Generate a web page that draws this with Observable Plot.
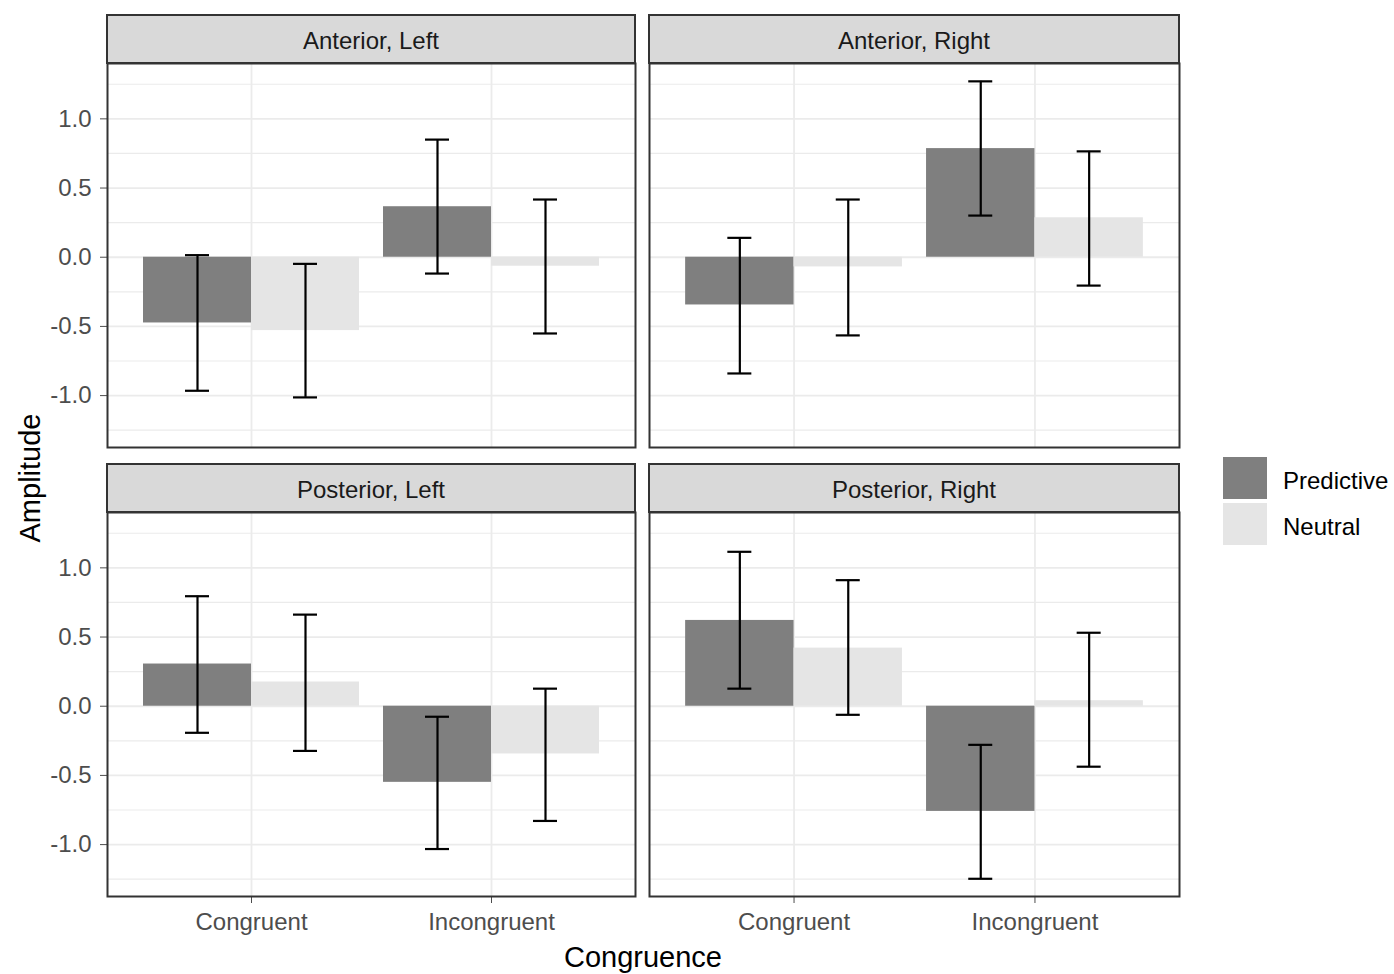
<!DOCTYPE html>
<html>
<head>
<meta charset="utf-8">
<script src="https://cdn.jsdelivr.net/npm/d3@7"></script>
<script src="https://cdn.jsdelivr.net/npm/@observablehq/plot@0.6"></script>
<style>
  html, body { margin: 0; padding: 0; background: #fff; }
  #chart { position: relative; width: 1394px; height: 974px; background: #fff; font-family: "Liberation Sans", Arial, sans-serif; }
  .strip { position: absolute; box-sizing: border-box; height: 50px; padding-top: 4px; background: #D9D9D9; border: 2px solid #333; color: #1A1A1A; font-size: 24px; display: flex; align-items: center; justify-content: center; }
  .title { position: absolute; color: #000; font-size: 29px; white-space: nowrap; }
  .key { position: absolute; left: 1223px; width: 44px; height: 42px; }
  .keylabel { position: absolute; left: 1283px; font-size: 24px; color: #000; line-height: 42px; }
</style>
</head>
<body>
<div id="chart"></div>
<script>
// Facets, categories and condition names
const panels = ["Anterior, Left", "Anterior, Right", "Posterior, Left", "Posterior, Right"];
const congruence = ["Congruent", "Incongruent"];
const conditions = ["Predictive", "Neutral"];

// Per facet, in the order: Congruent/Predictive, Congruent/Neutral, Incongruent/Predictive, Incongruent/Neutral
const amplitude = [
  [-0.475, -0.53, 0.365, -0.065],
  [-0.345, -0.07, 0.785, 0.285],
  [0.305, 0.175, -0.55, -0.345],
  [0.62, 0.42, -0.76, 0.04]
];
const ciLower = [
  [-0.965, -1.013, -0.118, -0.551],
  [-0.84, -0.565, 0.301, -0.205],
  [-0.192, -0.323, -1.032, -0.829],
  [0.127, -0.062, -1.247, -0.437]
];
const ciUpper = [
  [0.015, -0.048, 0.85, 0.417],
  [0.14, 0.417, 1.271, 0.765],
  [0.795, 0.662, -0.076, 0.127],
  [1.116, 0.911, -0.279, 0.531]
];

// y axis breaks
const majorTicks = [-1, -0.5, 0, 0.5, 1];
const minorTicks = [-1.25, -0.75, -0.25, 0.25, 0.75, 1.25];

// Long-format table built from the arrays above
const table = [];
panels.forEach((p, i) => {
  congruence.forEach((c, j) => {
    conditions.forEach((k, m) => {
      const idx = j * 2 + m;
      table.push({panel: p, congruence: c, condition: k,
        value: amplitude[i][idx], lo: ciLower[i][idx], hi: ciUpper[i][idx]});
    });
  });
});

const fills = ["#7F7F7F", "#E5E5E5"];
const font = '"Liberation Sans", Arial, sans-serif';
const chart = document.getElementById("chart");

// Panel geometry (page pixels)
const colLeft = [107, 649];
const colWidth = [528, 530];
const rowTop = [63, 512];
const panelHeight = 384;
const stripHeight = 48;

function drawPanel(i) {
  const row = Math.floor(i / 2), col = i % 2;
  const W = colWidth[col], H = panelHeight;
  const mL = col === 0 ? 107 : 4, mR = 4, mT = 4, mB = row === 1 ? 60 : 4;
  const step = W / 2.2, bw = 0.9 * step, cap = 24;
  const rows = table.filter(d => d.panel === panels[i]);
  const pred = rows.filter(d => d.condition === "Predictive");
  const neut = rows.filter(d => d.condition === "Neutral");
  const err = {stroke: "#000", strokeWidth: 2.2};

  const svg = Plot.plot({
    width: W + mL + mR,
    height: H + mT + mB,
    marginLeft: mL, marginRight: mR, marginTop: mT, marginBottom: mB,
    style: {fontFamily: font, fontSize: "24px", color: "#4D4D4D", background: "transparent", overflow: "visible"},
    x: {type: "band", domain: congruence, paddingInner: 0.1, paddingOuter: 0.15, round: false,
        axis: row === 1 ? "bottom" : null, tickSize: 7, tickPadding: 9, label: null},
    y: {domain: [-1.375, 1.40], ticks: majorTicks, tickFormat: d => d.toFixed(1),
        axis: col === 0 ? "left" : null, tickSize: 7, tickPadding: 9, label: null},
    color: {domain: conditions, range: fills},
    marks: [
      Plot.ruleY(minorTicks, {stroke: "#EBEBEB", strokeWidth: 1.2}),
      Plot.ruleY(majorTicks, {stroke: "#EBEBEB", strokeWidth: 1.8}),
      Plot.ruleX(congruence, {x: d => d, stroke: "#EBEBEB", strokeWidth: 1.8}),
      Plot.barY(pred, {x: "congruence", y1: 0, y2: "value", fill: "condition", insetRight: bw / 2}),
      Plot.barY(neut, {x: "congruence", y1: 0, y2: "value", fill: "condition", insetLeft: bw / 2}),
      Plot.ruleX(pred, {x: "congruence", y1: "lo", y2: "hi", dx: -bw / 4, ...err}),
      Plot.ruleX(neut, {x: "congruence", y1: "lo", y2: "hi", dx: bw / 4, ...err}),
      Plot.tickY(pred, {x: "congruence", y: "lo", insetLeft: bw / 4 - cap / 2, insetRight: 3 * bw / 4 - cap / 2, ...err}),
      Plot.tickY(pred, {x: "congruence", y: "hi", insetLeft: bw / 4 - cap / 2, insetRight: 3 * bw / 4 - cap / 2, ...err}),
      Plot.tickY(neut, {x: "congruence", y: "lo", insetLeft: 3 * bw / 4 - cap / 2, insetRight: bw / 4 - cap / 2, ...err}),
      Plot.tickY(neut, {x: "congruence", y: "hi", insetLeft: 3 * bw / 4 - cap / 2, insetRight: bw / 4 - cap / 2, ...err}),
      Plot.frame({stroke: "#333333", strokeWidth: 2})
    ]
  });
  svg.style.position = "absolute";
  svg.style.left = (colLeft[col] - mL) + "px";
  svg.style.top = (rowTop[row] - mT) + "px";
  svg.style.maxWidth = "none";
  chart.appendChild(svg);

  // facet strip above the panel
  const strip = document.createElement("div");
  strip.className = "strip";
  strip.style.left = (colLeft[col] - 1) + "px";
  strip.style.top = (rowTop[row] - stripHeight - 1) + "px";
  strip.style.width = (W + 2) + "px";
  strip.textContent = panels[i];
  chart.appendChild(strip);
}

panels.forEach((p, i) => drawPanel(i));

// Axis titles
const xt = document.createElement("div");
xt.className = "title";
xt.textContent = "Congruence";
xt.style.left = "643px"; xt.style.top = "957px";
xt.style.transform = "translate(-50%, -50%)";
chart.appendChild(xt);

const yt = document.createElement("div");
yt.className = "title";
yt.textContent = "Amplitude";
yt.style.left = "30px"; yt.style.top = "478px";
yt.style.transform = "translate(-50%, -50%) rotate(-90deg)";
chart.appendChild(yt);

// Legend
conditions.forEach((c, k) => {
  const top = 457 + k * 46;
  const key = document.createElement("div");
  key.className = "key";
  key.style.top = top + "px";
  key.style.background = fills[k];
  chart.appendChild(key);
  const lab = document.createElement("div");
  lab.className = "keylabel";
  lab.style.top = (top + 3) + "px";
  lab.textContent = c;
  chart.appendChild(lab);
});
</script>
</body>
</html>
